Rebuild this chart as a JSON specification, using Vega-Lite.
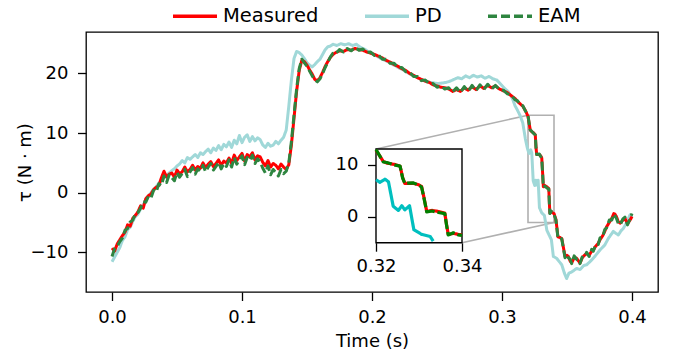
{
"$schema":"https://vega.github.io/schema/vega-lite/v6.json",
"width":572,"height":260,
"autosize":{"type":"none"},
"padding":{"left":86,"top":32,"right":18,"bottom":62},
"config":{"font":"DejaVu Sans","view":{"stroke":"#000","strokeWidth":1.3},
"axis":{"grid":false,"domain":false,"tickColor":"#000","tickWidth":1.3,"tickSize":8.5,"labelFontSize":18,"labelColor":"#000","titleFontSize":18,"titleFontWeight":"normal","titleColor":"#000","labelPadding":8,"labelFont":"DejaVu Sans","titleFont":"DejaVu Sans"}},
"datasets":{
"d":[
{"s":"PD","t":0,"v":-11.6},{"s":"PD","t":0.002,"v":-10.8},{"s":"PD","t":0.004,"v":-10.0},{"s":"PD","t":0.006,"v":-9.2},{"s":"PD","t":0.008,"v":-8.0},{"s":"PD","t":0.01,"v":-7.4},{"s":"PD","t":0.012,"v":-6.2},{"s":"PD","t":0.014,"v":-5.8},{"s":"PD","t":0.016,"v":-4.8},{"s":"PD","t":0.018,"v":-4.0},{"s":"PD","t":0.02,"v":-3.6},{"s":"PD","t":0.022,"v":-2.7},{"s":"PD","t":0.024,"v":-2.0},{"s":"PD","t":0.026,"v":-1.4},{"s":"PD","t":0.028,"v":-0.6},{"s":"PD","t":0.03,"v":0.0},{"s":"PD","t":0.032,"v":0.6},{"s":"PD","t":0.034,"v":1.0},{"s":"PD","t":0.036,"v":1.6},{"s":"PD","t":0.038,"v":2.0},{"s":"PD","t":0.04,"v":2.6},{"s":"PD","t":0.042,"v":3.0},{"s":"PD","t":0.044,"v":3.3},{"s":"PD","t":0.046,"v":3.7},{"s":"PD","t":0.048,"v":4.0},{"s":"PD","t":0.05,"v":4.5},{"s":"PD","t":0.052,"v":4.8},{"s":"PD","t":0.054,"v":5.4},{"s":"PD","t":0.056,"v":5.0},{"s":"PD","t":0.058,"v":5.9},{"s":"PD","t":0.06,"v":5.6},{"s":"PD","t":0.062,"v":6.0},{"s":"PD","t":0.064,"v":6.4},{"s":"PD","t":0.066,"v":5.9},{"s":"PD","t":0.068,"v":6.7},{"s":"PD","t":0.07,"v":6.4},{"s":"PD","t":0.072,"v":6.9},{"s":"PD","t":0.074,"v":7.3},{"s":"PD","t":0.076,"v":6.7},{"s":"PD","t":0.078,"v":7.5},{"s":"PD","t":0.08,"v":7.1},{"s":"PD","t":0.082,"v":7.9},{"s":"PD","t":0.084,"v":7.2},{"s":"PD","t":0.086,"v":8.1},{"s":"PD","t":0.088,"v":7.7},{"s":"PD","t":0.09,"v":8.5},{"s":"PD","t":0.092,"v":7.6},{"s":"PD","t":0.094,"v":8.8},{"s":"PD","t":0.096,"v":8.2},{"s":"PD","t":0.098,"v":9.6},{"s":"PD","t":0.1,"v":8.4},{"s":"PD","t":0.102,"v":9.3},{"s":"PD","t":0.104,"v":9.7},{"s":"PD","t":0.106,"v":8.6},{"s":"PD","t":0.108,"v":9.4},{"s":"PD","t":0.11,"v":8.7},{"s":"PD","t":0.112,"v":9.2},{"s":"PD","t":0.114,"v":8.9},{"s":"PD","t":0.116,"v":8.0},{"s":"PD","t":0.118,"v":7.6},{"s":"PD","t":0.12,"v":8.3},{"s":"PD","t":0.122,"v":7.8},{"s":"PD","t":0.124,"v":8.0},{"s":"PD","t":0.126,"v":8.6},{"s":"PD","t":0.128,"v":8.2},{"s":"PD","t":0.13,"v":8.8},{"s":"PD","t":0.132,"v":9.3},{"s":"PD","t":0.134,"v":10.5},{"s":"PD","t":0.136,"v":14.5},{"s":"PD","t":0.138,"v":18.9},{"s":"PD","t":0.14,"v":22.5},{"s":"PD","t":0.142,"v":23.7},{"s":"PD","t":0.144,"v":23.5},{"s":"PD","t":0.146,"v":23.1},{"s":"PD","t":0.148,"v":22.5},{"s":"PD","t":0.15,"v":21.8},{"s":"PD","t":0.152,"v":21.4},{"s":"PD","t":0.154,"v":21.1},{"s":"PD","t":0.156,"v":21.5},{"s":"PD","t":0.158,"v":22.0},{"s":"PD","t":0.16,"v":22.4},{"s":"PD","t":0.162,"v":23.2},{"s":"PD","t":0.164,"v":24.0},{"s":"PD","t":0.166,"v":24.5},{"s":"PD","t":0.168,"v":24.6},{"s":"PD","t":0.17,"v":24.9},{"s":"PD","t":0.173,"v":24.7},{"s":"PD","t":0.176,"v":25.0},{"s":"PD","t":0.179,"v":24.8},{"s":"PD","t":0.182,"v":25.0},{"s":"PD","t":0.185,"v":24.7},{"s":"PD","t":0.188,"v":24.9},{"s":"PD","t":0.191,"v":24.4},{"s":"PD","t":0.194,"v":24.1},{"s":"PD","t":0.197,"v":23.7},{"s":"PD","t":0.2,"v":23.4},{"s":"PD","t":0.203,"v":23.0},{"s":"PD","t":0.206,"v":22.6},{"s":"PD","t":0.209,"v":22.3},{"s":"PD","t":0.212,"v":22.0},{"s":"PD","t":0.215,"v":21.6},{"s":"PD","t":0.218,"v":21.3},{"s":"PD","t":0.221,"v":20.9},{"s":"PD","t":0.224,"v":20.6},{"s":"PD","t":0.227,"v":20.2},{"s":"PD","t":0.23,"v":19.8},{"s":"PD","t":0.233,"v":19.5},{"s":"PD","t":0.236,"v":19.2},{"s":"PD","t":0.239,"v":18.9},{"s":"PD","t":0.242,"v":18.7},{"s":"PD","t":0.245,"v":18.5},{"s":"PD","t":0.248,"v":18.4},{"s":"PD","t":0.251,"v":18.3},{"s":"PD","t":0.254,"v":18.4},{"s":"PD","t":0.257,"v":18.5},{"s":"PD","t":0.26,"v":18.7},{"s":"PD","t":0.263,"v":19.0},{"s":"PD","t":0.266,"v":19.3},{"s":"PD","t":0.269,"v":19.1},{"s":"PD","t":0.272,"v":19.6},{"s":"PD","t":0.275,"v":19.3},{"s":"PD","t":0.278,"v":19.7},{"s":"PD","t":0.281,"v":19.4},{"s":"PD","t":0.284,"v":19.6},{"s":"PD","t":0.287,"v":19.2},{"s":"PD","t":0.29,"v":19.5},{"s":"PD","t":0.293,"v":19.1},{"s":"PD","t":0.296,"v":18.9},{"s":"PD","t":0.299,"v":18.2},{"s":"PD","t":0.302,"v":17.5},{"s":"PD","t":0.305,"v":16.9},{"s":"PD","t":0.308,"v":15.8},{"s":"PD","t":0.31,"v":14.6},{"s":"PD","t":0.312,"v":13.8},{"s":"PD","t":0.314,"v":12.9},{"s":"PD","t":0.316,"v":11.7},{"s":"PD","t":0.318,"v":9.0},{"s":"PD","t":0.3195,"v":7.5},{"s":"PD","t":0.32,"v":7.1},{"s":"PD","t":0.3209,"v":6.6},{"s":"PD","t":0.3221,"v":7.2},{"s":"PD","t":0.3229,"v":6.7},{"s":"PD","t":0.324,"v":2.0},{"s":"PD","t":0.3252,"v":1.2},{"s":"PD","t":0.326,"v":2.1},{"s":"PD","t":0.3267,"v":1.3},{"s":"PD","t":0.3278,"v":2.1},{"s":"PD","t":0.3288,"v":-2.5},{"s":"PD","t":0.3306,"v":-3.4},{"s":"PD","t":0.3326,"v":-3.8},{"s":"PD","t":0.3333,"v":-4.7},{"s":"PD","t":0.3345,"v":-6.3},{"s":"PD","t":0.338,"v":-7.9},{"s":"PD","t":0.3395,"v":-10.7},{"s":"PD","t":0.342,"v":-11.0},{"s":"PD","t":0.346,"v":-12.1},{"s":"PD","t":0.348,"v":-13.5},{"s":"PD","t":0.3497,"v":-14.4},{"s":"PD","t":0.3515,"v":-13.5},{"s":"PD","t":0.3536,"v":-13.3},{"s":"PD","t":0.3574,"v":-12.7},{"s":"PD","t":0.36,"v":-12.9},{"s":"PD","t":0.363,"v":-12.2},{"s":"PD","t":0.3651,"v":-12.1},{"s":"PD","t":0.368,"v":-11.5},{"s":"PD","t":0.371,"v":-10.8},{"s":"PD","t":0.3754,"v":-9.6},{"s":"PD","t":0.379,"v":-8.8},{"s":"PD","t":0.382,"v":-7.6},{"s":"PD","t":0.3856,"v":-6.5},{"s":"PD","t":0.3875,"v":-6.8},{"s":"PD","t":0.3895,"v":-7.1},{"s":"PD","t":0.3915,"v":-6.4},{"s":"PD","t":0.3933,"v":-6.0},{"s":"PD","t":0.396,"v":-5.0},{"s":"PD","t":0.3985,"v":-3.7},{"s":"PD","t":0.4,"v":-4.2},
{"s":"Measured","t":0,"v":-9.3},{"s":"Measured","t":0.002,"v":-9.8},{"s":"Measured","t":0.004,"v":-8.6},{"s":"Measured","t":0.006,"v":-7.9},{"s":"Measured","t":0.008,"v":-7.2},{"s":"Measured","t":0.01,"v":-6.6},{"s":"Measured","t":0.012,"v":-5.4},{"s":"Measured","t":0.014,"v":-5.6},{"s":"Measured","t":0.016,"v":-4.3},{"s":"Measured","t":0.018,"v":-3.8},{"s":"Measured","t":0.02,"v":-3.2},{"s":"Measured","t":0.022,"v":-2.2},{"s":"Measured","t":0.024,"v":-2.6},{"s":"Measured","t":0.026,"v":-1.0},{"s":"Measured","t":0.028,"v":-0.5},{"s":"Measured","t":0.03,"v":-0.2},{"s":"Measured","t":0.032,"v":0.5},{"s":"Measured","t":0.034,"v":0.9},{"s":"Measured","t":0.036,"v":1.2},{"s":"Measured","t":0.038,"v":2.5},{"s":"Measured","t":0.04,"v":3.6},{"s":"Measured","t":0.042,"v":2.6},{"s":"Measured","t":0.044,"v":3.1},{"s":"Measured","t":0.046,"v":3.3},{"s":"Measured","t":0.048,"v":2.6},{"s":"Measured","t":0.05,"v":3.8},{"s":"Measured","t":0.052,"v":3.2},{"s":"Measured","t":0.054,"v":3.5},{"s":"Measured","t":0.056,"v":4.3},{"s":"Measured","t":0.058,"v":3.5},{"s":"Measured","t":0.06,"v":3.9},{"s":"Measured","t":0.062,"v":4.6},{"s":"Measured","t":0.064,"v":3.8},{"s":"Measured","t":0.066,"v":4.4},{"s":"Measured","t":0.068,"v":4.1},{"s":"Measured","t":0.07,"v":5.0},{"s":"Measured","t":0.072,"v":4.2},{"s":"Measured","t":0.074,"v":4.8},{"s":"Measured","t":0.076,"v":5.2},{"s":"Measured","t":0.078,"v":4.4},{"s":"Measured","t":0.08,"v":4.9},{"s":"Measured","t":0.082,"v":5.5},{"s":"Measured","t":0.084,"v":4.6},{"s":"Measured","t":0.086,"v":5.3},{"s":"Measured","t":0.088,"v":5.0},{"s":"Measured","t":0.09,"v":5.8},{"s":"Measured","t":0.092,"v":4.9},{"s":"Measured","t":0.094,"v":6.3},{"s":"Measured","t":0.096,"v":5.4},{"s":"Measured","t":0.098,"v":6.0},{"s":"Measured","t":0.1,"v":6.6},{"s":"Measured","t":0.102,"v":5.3},{"s":"Measured","t":0.104,"v":6.4},{"s":"Measured","t":0.106,"v":6.0},{"s":"Measured","t":0.108,"v":6.7},{"s":"Measured","t":0.11,"v":5.5},{"s":"Measured","t":0.112,"v":6.2},{"s":"Measured","t":0.114,"v":6.0},{"s":"Measured","t":0.116,"v":5.1},{"s":"Measured","t":0.118,"v":4.5},{"s":"Measured","t":0.12,"v":5.4},{"s":"Measured","t":0.122,"v":4.3},{"s":"Measured","t":0.124,"v":4.9},{"s":"Measured","t":0.126,"v":4.6},{"s":"Measured","t":0.128,"v":4.0},{"s":"Measured","t":0.13,"v":4.8},{"s":"Measured","t":0.132,"v":4.3},{"s":"Measured","t":0.134,"v":3.9},{"s":"Measured","t":0.136,"v":4.7},{"s":"Measured","t":0.138,"v":8.0},{"s":"Measured","t":0.14,"v":12.5},{"s":"Measured","t":0.142,"v":17.0},{"s":"Measured","t":0.144,"v":20.5},{"s":"Measured","t":0.146,"v":22.2},{"s":"Measured","t":0.148,"v":22.0},{"s":"Measured","t":0.15,"v":21.4},{"s":"Measured","t":0.152,"v":20.6},{"s":"Measured","t":0.154,"v":19.9},{"s":"Measured","t":0.156,"v":19.0},{"s":"Measured","t":0.158,"v":18.8},{"s":"Measured","t":0.16,"v":19.3},{"s":"Measured","t":0.162,"v":20.2},{"s":"Measured","t":0.164,"v":21.2},{"s":"Measured","t":0.166,"v":22.0},{"s":"Measured","t":0.168,"v":22.7},{"s":"Measured","t":0.17,"v":23.2},{"s":"Measured","t":0.172,"v":23.5},{"s":"Measured","t":0.175,"v":23.8},{"s":"Measured","t":0.178,"v":23.7},{"s":"Measured","t":0.181,"v":24.0},{"s":"Measured","t":0.184,"v":23.9},{"s":"Measured","t":0.187,"v":24.2},{"s":"Measured","t":0.19,"v":24.0},{"s":"Measured","t":0.193,"v":23.9},{"s":"Measured","t":0.196,"v":23.6},{"s":"Measured","t":0.199,"v":23.4},{"s":"Measured","t":0.202,"v":23.2},{"s":"Measured","t":0.205,"v":22.9},{"s":"Measured","t":0.208,"v":22.6},{"s":"Measured","t":0.211,"v":22.2},{"s":"Measured","t":0.214,"v":21.9},{"s":"Measured","t":0.217,"v":21.5},{"s":"Measured","t":0.22,"v":21.2},{"s":"Measured","t":0.223,"v":20.8},{"s":"Measured","t":0.226,"v":20.5},{"s":"Measured","t":0.229,"v":20.0},{"s":"Measured","t":0.232,"v":19.7},{"s":"Measured","t":0.235,"v":19.3},{"s":"Measured","t":0.238,"v":19.0},{"s":"Measured","t":0.241,"v":18.7},{"s":"Measured","t":0.244,"v":18.5},{"s":"Measured","t":0.247,"v":18.1},{"s":"Measured","t":0.25,"v":17.9},{"s":"Measured","t":0.253,"v":17.7},{"s":"Measured","t":0.256,"v":17.6},{"s":"Measured","t":0.259,"v":17.4},{"s":"Measured","t":0.262,"v":17.0},{"s":"Measured","t":0.265,"v":17.3},{"s":"Measured","t":0.268,"v":17.0},{"s":"Measured","t":0.271,"v":17.6},{"s":"Measured","t":0.274,"v":17.2},{"s":"Measured","t":0.277,"v":17.8},{"s":"Measured","t":0.28,"v":17.3},{"s":"Measured","t":0.283,"v":17.9},{"s":"Measured","t":0.286,"v":17.5},{"s":"Measured","t":0.289,"v":18.0},{"s":"Measured","t":0.292,"v":17.6},{"s":"Measured","t":0.295,"v":17.9},{"s":"Measured","t":0.298,"v":17.4},{"s":"Measured","t":0.301,"v":17.1},{"s":"Measured","t":0.304,"v":16.8},{"s":"Measured","t":0.307,"v":16.3},{"s":"Measured","t":0.31,"v":15.8},{"s":"Measured","t":0.312,"v":15.3},{"s":"Measured","t":0.314,"v":14.9},{"s":"Measured","t":0.316,"v":14.5},{"s":"Measured","t":0.318,"v":13.8},{"s":"Measured","t":0.319,"v":13.3},{"s":"Measured","t":0.32,"v":12.8},{"s":"Measured","t":0.3217,"v":10.6},{"s":"Measured","t":0.3225,"v":10.3},{"s":"Measured","t":0.3245,"v":10.0},{"s":"Measured","t":0.3256,"v":9.7},{"s":"Measured","t":0.3262,"v":7.5},{"s":"Measured","t":0.3267,"v":6.4},{"s":"Measured","t":0.3287,"v":6.4},{"s":"Measured","t":0.33,"v":6.1},{"s":"Measured","t":0.3306,"v":5.8},{"s":"Measured","t":0.3312,"v":3.5},{"s":"Measured","t":0.3318,"v":1.0},{"s":"Measured","t":0.333,"v":1.2},{"s":"Measured","t":0.3345,"v":1.0},{"s":"Measured","t":0.336,"v":0.7},{"s":"Measured","t":0.3364,"v":-1.5},{"s":"Measured","t":0.3368,"v":-3.4},{"s":"Measured","t":0.338,"v":-3.2},{"s":"Measured","t":0.3391,"v":-3.4},{"s":"Measured","t":0.34,"v":-3.5},{"s":"Measured","t":0.3415,"v":-4.5},{"s":"Measured","t":0.343,"v":-7.4},{"s":"Measured","t":0.3445,"v":-7.5},{"s":"Measured","t":0.346,"v":-7.7},{"s":"Measured","t":0.3475,"v":-9.5},{"s":"Measured","t":0.3485,"v":-10.7},{"s":"Measured","t":0.35,"v":-10.5},{"s":"Measured","t":0.351,"v":-10.7},{"s":"Measured","t":0.3525,"v":-11.5},{"s":"Measured","t":0.3536,"v":-11.8},{"s":"Measured","t":0.3555,"v":-10.9},{"s":"Measured","t":0.3574,"v":-11.0},{"s":"Measured","t":0.359,"v":-11.5},{"s":"Measured","t":0.36,"v":-11.8},{"s":"Measured","t":0.362,"v":-10.8},{"s":"Measured","t":0.364,"v":-10.4},{"s":"Measured","t":0.3651,"v":-10.2},{"s":"Measured","t":0.367,"v":-10.5},{"s":"Measured","t":0.369,"v":-9.8},{"s":"Measured","t":0.3703,"v":-9.6},{"s":"Measured","t":0.372,"v":-9.0},{"s":"Measured","t":0.374,"v":-8.5},{"s":"Measured","t":0.3754,"v":-7.9},{"s":"Measured","t":0.3775,"v":-7.2},{"s":"Measured","t":0.379,"v":-6.5},{"s":"Measured","t":0.3805,"v":-5.7},{"s":"Measured","t":0.3825,"v":-5.0},{"s":"Measured","t":0.3845,"v":-4.3},{"s":"Measured","t":0.386,"v":-3.5},{"s":"Measured","t":0.3869,"v":-3.6},{"s":"Measured","t":0.388,"v":-4.0},{"s":"Measured","t":0.3895,"v":-4.9},{"s":"Measured","t":0.391,"v":-5.1},{"s":"Measured","t":0.393,"v":-4.6},{"s":"Measured","t":0.3946,"v":-4.3},{"s":"Measured","t":0.3965,"v":-5.2},{"s":"Measured","t":0.3985,"v":-4.6},{"s":"Measured","t":0.4,"v":-4.0},
{"s":"EAM","t":0,"v":-10.7},{"s":"EAM","t":0.002,"v":-9.4},{"s":"EAM","t":0.004,"v":-9.0},{"s":"EAM","t":0.006,"v":-8.2},{"s":"EAM","t":0.008,"v":-7.6},{"s":"EAM","t":0.01,"v":-6.3},{"s":"EAM","t":0.012,"v":-6.0},{"s":"EAM","t":0.014,"v":-4.9},{"s":"EAM","t":0.016,"v":-4.6},{"s":"EAM","t":0.018,"v":-3.5},{"s":"EAM","t":0.02,"v":-3.3},{"s":"EAM","t":0.022,"v":-2.6},{"s":"EAM","t":0.024,"v":-1.5},{"s":"EAM","t":0.026,"v":-1.6},{"s":"EAM","t":0.028,"v":-0.6},{"s":"EAM","t":0.03,"v":-0.9},{"s":"EAM","t":0.032,"v":0.4},{"s":"EAM","t":0.034,"v":0.1},{"s":"EAM","t":0.036,"v":1.5},{"s":"EAM","t":0.038,"v":1.2},{"s":"EAM","t":0.04,"v":2.8},{"s":"EAM","t":0.042,"v":1.7},{"s":"EAM","t":0.044,"v":3.0},{"s":"EAM","t":0.046,"v":2.5},{"s":"EAM","t":0.048,"v":2.0},{"s":"EAM","t":0.05,"v":3.4},{"s":"EAM","t":0.052,"v":2.6},{"s":"EAM","t":0.054,"v":3.2},{"s":"EAM","t":0.056,"v":3.9},{"s":"EAM","t":0.058,"v":2.7},{"s":"EAM","t":0.06,"v":3.5},{"s":"EAM","t":0.062,"v":4.2},{"s":"EAM","t":0.064,"v":3.1},{"s":"EAM","t":0.066,"v":4.0},{"s":"EAM","t":0.068,"v":3.6},{"s":"EAM","t":0.07,"v":4.6},{"s":"EAM","t":0.072,"v":3.5},{"s":"EAM","t":0.074,"v":4.3},{"s":"EAM","t":0.076,"v":4.9},{"s":"EAM","t":0.078,"v":3.8},{"s":"EAM","t":0.08,"v":4.4},{"s":"EAM","t":0.082,"v":5.1},{"s":"EAM","t":0.084,"v":4.0},{"s":"EAM","t":0.086,"v":4.9},{"s":"EAM","t":0.088,"v":4.4},{"s":"EAM","t":0.09,"v":5.5},{"s":"EAM","t":0.092,"v":4.3},{"s":"EAM","t":0.094,"v":5.9},{"s":"EAM","t":0.096,"v":4.8},{"s":"EAM","t":0.098,"v":5.5},{"s":"EAM","t":0.1,"v":6.2},{"s":"EAM","t":0.102,"v":4.7},{"s":"EAM","t":0.104,"v":5.9},{"s":"EAM","t":0.106,"v":5.4},{"s":"EAM","t":0.108,"v":6.3},{"s":"EAM","t":0.11,"v":4.9},{"s":"EAM","t":0.112,"v":5.7},{"s":"EAM","t":0.114,"v":5.2},{"s":"EAM","t":0.116,"v":4.1},{"s":"EAM","t":0.118,"v":3.3},{"s":"EAM","t":0.12,"v":4.5},{"s":"EAM","t":0.122,"v":3.0},{"s":"EAM","t":0.124,"v":3.9},{"s":"EAM","t":0.126,"v":3.4},{"s":"EAM","t":0.128,"v":2.8},{"s":"EAM","t":0.13,"v":3.9},{"s":"EAM","t":0.132,"v":3.2},{"s":"EAM","t":0.134,"v":3.6},{"s":"EAM","t":0.136,"v":5.0},{"s":"EAM","t":0.138,"v":8.6},{"s":"EAM","t":0.14,"v":13.0},{"s":"EAM","t":0.142,"v":17.4},{"s":"EAM","t":0.144,"v":20.8},{"s":"EAM","t":0.146,"v":22.4},{"s":"EAM","t":0.148,"v":21.8},{"s":"EAM","t":0.15,"v":21.2},{"s":"EAM","t":0.152,"v":20.4},{"s":"EAM","t":0.154,"v":19.6},{"s":"EAM","t":0.156,"v":18.9},{"s":"EAM","t":0.158,"v":18.6},{"s":"EAM","t":0.16,"v":19.1},{"s":"EAM","t":0.162,"v":20.0},{"s":"EAM","t":0.164,"v":21.0},{"s":"EAM","t":0.166,"v":21.9},{"s":"EAM","t":0.168,"v":22.8},{"s":"EAM","t":0.17,"v":23.4},{"s":"EAM","t":0.172,"v":23.3},{"s":"EAM","t":0.175,"v":24.0},{"s":"EAM","t":0.178,"v":23.6},{"s":"EAM","t":0.181,"v":24.2},{"s":"EAM","t":0.184,"v":23.8},{"s":"EAM","t":0.187,"v":24.4},{"s":"EAM","t":0.19,"v":23.9},{"s":"EAM","t":0.193,"v":24.1},{"s":"EAM","t":0.196,"v":23.5},{"s":"EAM","t":0.199,"v":23.6},{"s":"EAM","t":0.202,"v":23.0},{"s":"EAM","t":0.205,"v":23.1},{"s":"EAM","t":0.208,"v":22.4},{"s":"EAM","t":0.211,"v":22.4},{"s":"EAM","t":0.214,"v":21.7},{"s":"EAM","t":0.217,"v":21.7},{"s":"EAM","t":0.22,"v":21.0},{"s":"EAM","t":0.223,"v":21.0},{"s":"EAM","t":0.226,"v":20.3},{"s":"EAM","t":0.229,"v":20.2},{"s":"EAM","t":0.232,"v":19.5},{"s":"EAM","t":0.235,"v":19.5},{"s":"EAM","t":0.238,"v":18.8},{"s":"EAM","t":0.241,"v":18.9},{"s":"EAM","t":0.244,"v":18.3},{"s":"EAM","t":0.247,"v":18.3},{"s":"EAM","t":0.25,"v":17.7},{"s":"EAM","t":0.253,"v":17.9},{"s":"EAM","t":0.256,"v":17.4},{"s":"EAM","t":0.259,"v":17.6},{"s":"EAM","t":0.262,"v":16.9},{"s":"EAM","t":0.265,"v":17.6},{"s":"EAM","t":0.268,"v":16.8},{"s":"EAM","t":0.271,"v":17.8},{"s":"EAM","t":0.274,"v":17.0},{"s":"EAM","t":0.277,"v":18.0},{"s":"EAM","t":0.28,"v":17.1},{"s":"EAM","t":0.283,"v":18.1},{"s":"EAM","t":0.286,"v":17.3},{"s":"EAM","t":0.289,"v":18.2},{"s":"EAM","t":0.292,"v":17.4},{"s":"EAM","t":0.295,"v":18.0},{"s":"EAM","t":0.298,"v":17.3},{"s":"EAM","t":0.301,"v":17.2},{"s":"EAM","t":0.304,"v":16.6},{"s":"EAM","t":0.307,"v":16.4},{"s":"EAM","t":0.31,"v":15.6},{"s":"EAM","t":0.312,"v":15.4},{"s":"EAM","t":0.314,"v":14.7},{"s":"EAM","t":0.316,"v":14.6},{"s":"EAM","t":0.318,"v":13.7},{"s":"EAM","t":0.319,"v":13.4},{"s":"EAM","t":0.32,"v":12.9},{"s":"EAM","t":0.3217,"v":10.5},{"s":"EAM","t":0.3225,"v":10.4},{"s":"EAM","t":0.3245,"v":9.9},{"s":"EAM","t":0.3256,"v":9.7},{"s":"EAM","t":0.3262,"v":7.4},{"s":"EAM","t":0.3267,"v":6.4},{"s":"EAM","t":0.3287,"v":6.5},{"s":"EAM","t":0.33,"v":6.0},{"s":"EAM","t":0.3306,"v":5.7},{"s":"EAM","t":0.3312,"v":3.4},{"s":"EAM","t":0.3318,"v":0.9},{"s":"EAM","t":0.333,"v":1.1},{"s":"EAM","t":0.3345,"v":0.8},{"s":"EAM","t":0.336,"v":0.6},{"s":"EAM","t":0.3364,"v":-1.6},{"s":"EAM","t":0.3368,"v":-3.5},{"s":"EAM","t":0.338,"v":-3.1},{"s":"EAM","t":0.3391,"v":-3.5},{"s":"EAM","t":0.34,"v":-3.6},{"s":"EAM","t":0.3415,"v":-4.6},{"s":"EAM","t":0.343,"v":-7.5},{"s":"EAM","t":0.3445,"v":-7.4},{"s":"EAM","t":0.346,"v":-7.8},{"s":"EAM","t":0.3475,"v":-9.7},{"s":"EAM","t":0.3485,"v":-10.9},{"s":"EAM","t":0.35,"v":-10.4},{"s":"EAM","t":0.351,"v":-10.9},{"s":"EAM","t":0.3525,"v":-11.2},{"s":"EAM","t":0.3536,"v":-11.9},{"s":"EAM","t":0.3555,"v":-10.6},{"s":"EAM","t":0.3574,"v":-11.2},{"s":"EAM","t":0.359,"v":-11.3},{"s":"EAM","t":0.36,"v":-11.9},{"s":"EAM","t":0.362,"v":-10.6},{"s":"EAM","t":0.364,"v":-10.6},{"s":"EAM","t":0.3651,"v":-10.0},{"s":"EAM","t":0.367,"v":-10.7},{"s":"EAM","t":0.369,"v":-9.5},{"s":"EAM","t":0.3703,"v":-9.8},{"s":"EAM","t":0.372,"v":-8.7},{"s":"EAM","t":0.374,"v":-8.7},{"s":"EAM","t":0.3754,"v":-7.6},{"s":"EAM","t":0.3775,"v":-7.4},{"s":"EAM","t":0.379,"v":-6.2},{"s":"EAM","t":0.3805,"v":-5.9},{"s":"EAM","t":0.3825,"v":-4.6},{"s":"EAM","t":0.3845,"v":-4.6},{"s":"EAM","t":0.386,"v":-3.6},{"s":"EAM","t":0.3869,"v":-3.9},{"s":"EAM","t":0.388,"v":-4.3},{"s":"EAM","t":0.3895,"v":-5.2},{"s":"EAM","t":0.391,"v":-5.4},{"s":"EAM","t":0.393,"v":-4.4},{"s":"EAM","t":0.3946,"v":-4.1},{"s":"EAM","t":0.3965,"v":-5.4},{"s":"EAM","t":0.3985,"v":-4.4},{"s":"EAM","t":0.4,"v":-3.5}
],
"links":[{"x":0.32,"y":13,"x2":0.2031,"y2":7.33},{"x":0.34,"y":-5,"x2":0.2692,"y2":-8.39}]
},
"layer":[
{"layer":[
 {"data":{"name":"links"},"mark":{"type":"rule","color":"#b0b0b0","strokeWidth":1.6},
  "encoding":{"x":{"field":"x","type":"quantitative","scale":{"domain":[-0.02,0.42],"nice":false,"zero":false}},"y":{"field":"y","type":"quantitative","scale":{"domain":[-16.66,26.96],"nice":false,"zero":false}},"x2":{"field":"x2"},"y2":{"field":"y2"}}},
 {"data":{"name":"links"},"transform":[{"filter":"datum.x == 0.32"}],"mark":{"type":"rect","fill":null,"fillOpacity":0,"stroke":"#b0b0b0","strokeWidth":1.6},
  "encoding":{"x":{"datum":0.32,"type":"quantitative"},"x2":{"datum":0.34},"y":{"datum":-5,"type":"quantitative"},"y2":{"datum":13}}},
 {"data":{"name":"d"},"mark":{"type":"line","strokeWidth":3,"strokeJoin":"round"},
  "encoding":{
   "x":{"field":"t","type":"quantitative","scale":{"domain":[-0.02,0.42],"nice":false,"zero":false},"axis":{"values":[0,0.1,0.2,0.3,0.4],"format":".1f","title":"Time (s)","titleBaseline":"alphabetic","titleY":54}},
   "y":{"field":"v","type":"quantitative","scale":{"domain":[-16.66,26.96],"nice":false,"zero":false},"axis":{"values":[-10,0,10,20],"format":"d","title":"τ (N · m)","labelPadding":9.5,"titleBaseline":"alphabetic","titleX":-56}},
   "color":{"field":"s","type":"nominal","scale":{"domain":["Measured","PD","EAM"],"range":["#ff0000","#a0d8d8","#2e8540"]},
     "legend":{"orient":"none","legendX":85,"legendY":-40,"direction":"horizontal","title":null,"symbolType":"stroke","symbolSize":1936,"symbolStrokeWidth":3.5,"labelFontSize":19.5,"labelOffset":4,"columnPadding":39,"labelColor":"#000","labelFont":"DejaVu Sans"}},
   "strokeDash":{"field":"s","type":"nominal","scale":{"domain":["Measured","PD","EAM"],"range":[[1,0],[1,0],[9,4]]},
     "legend":{"orient":"none","legendX":85,"legendY":-40,"direction":"horizontal","title":null,"symbolType":"stroke","symbolSize":1936,"symbolStrokeWidth":3.5,"labelFontSize":19.5,"labelOffset":4,"columnPadding":39,"labelColor":"#000","labelFont":"DejaVu Sans"}},
   "order":{"field":"t","type":"quantitative"}
  }}
]},
{"layer":[
 {"data":{"name":"links"},"transform":[{"filter":"datum.x == 0.32"}],"mark":{"type":"rect","fill":"#ffffff","stroke":"#000","strokeWidth":1.4},
  "encoding":{"x":{"datum":0.32,"type":"quantitative","scale":{"domain":[0.32,0.34],"range":[290,376],"nice":false,"zero":false},"axis":{"values":[0.32,0.34],"format":".2f","orient":"bottom","offset":-49.3,"title":null,"labelFlush":false,"labelPadding":6}},"x2":{"datum":0.34},
   "y":{"datum":-5,"type":"quantitative","scale":{"domain":[-5,13],"range":[210.7,117],"nice":false,"zero":false},"axis":{"values":[0,10],"format":"d","orient":"left","offset":-290,"title":null,"labelFlush":false,"labelPadding":9.5}},"y2":{"datum":13}}},
 {"data":{"name":"d"},"transform":[{"filter":{"field":"t","range":[0.32,0.34]}},{"filter":"datum.v >= -5"}],"mark":{"type":"line","strokeWidth":3.2,"strokeJoin":"round"},
  "encoding":{
   "x":{"field":"t","type":"quantitative"},
   "y":{"field":"v","type":"quantitative"},
   "color":{"field":"s","type":"nominal","scale":{"domain":["Measured","PD","EAM"],"range":["#ff0000","#00bfbf","#008000"]},"legend":null},
   "strokeDash":{"field":"s","type":"nominal","scale":{"domain":["Measured","PD","EAM"],"range":[[1,0],[1,0],[10,3]]},"legend":null},
   "order":{"field":"t","type":"quantitative"}
  }}
]}
],
"resolve":{"scale":{"x":"independent","y":"independent","color":"independent","strokeDash":"independent"},"axis":{"x":"independent","y":"independent"},"legend":{"color":"independent","strokeDash":"independent"}}
}
